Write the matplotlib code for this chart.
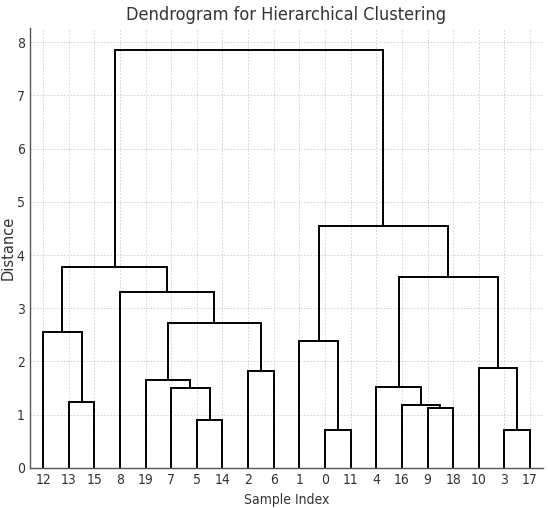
import numpy as np
import matplotlib
matplotlib.use("Agg")
import matplotlib.pyplot as plt

plt.rcParams['font.family'] = ['DejaVu Sans']
plt.rcParams['font.stretch'] = 'condensed'

# ── Data ───────────────────────────────────────────────────────────────────
# leaf order along the x axis (sample indices)
leaf_order = [12, 13, 15, 8, 19, 7, 5, 14, 2, 6, 1, 0, 11, 4, 16, 9, 18, 10, 3, 17]
n_samples = 20

# linkage steps: (left child, right child, distance); new cluster id = n + step
merge_left = [0, 3, 5, 9, 16, 13, 7, 4, 19, 2, 10, 1, 12, 28, 8, 27, 32, 31, 36]
merge_right = [11, 17, 14, 18, 23, 15, 22, 24, 26, 6, 21, 20, 25, 29, 33, 30, 34, 35, 37]
merge_dist = [0.71, 0.72, 0.90, 1.12, 1.19, 1.24, 1.50, 1.52, 1.66, 1.83,
              1.87, 2.39, 2.55, 2.73, 3.31, 3.58, 3.77, 4.55, 7.86]

# ── Layout of the tree ─────────────────────────────────────────────────────
pos = {leaf: 5 + 10 * i for i, leaf in enumerate(leaf_order)}
height = {leaf: 0.0 for leaf in leaf_order}

fig, ax = plt.subplots(figsize=(5.5, 5.08), dpi=100)

for k, (a, b, d) in enumerate(zip(merge_left, merge_right, merge_dist)):
    xa, xb = pos[a], pos[b]
    ax.plot([xa, xa, xb, xb], [height[a], d, d, height[b]],
            color="black", lw=1.4, solid_joinstyle="miter")
    cid = n_samples + k
    pos[cid] = 0.5 * (xa + xb)
    height[cid] = d

ax.set_xlim(0, 10 * n_samples)
ax.set_ylim(0, 8.27)
ax.set_xticks([5 + 10 * i for i in range(n_samples)])
ax.set_xticklabels([str(l) for l in leaf_order])
ax.set_yticks(range(0, 9))
ax.tick_params(length=0, labelsize=10, pad=4, colors="#333333")

ax.grid(True, ls=(0, (2, 2)), lw=0.6, color="#cccccc")
ax.set_axisbelow(True)
for side in ("top", "right"):
    ax.spines[side].set_visible(False)
for side in ("left", "bottom"):
    ax.spines[side].set_color("#555555")
    ax.spines[side].set_linewidth(1.0)

ax.set_title("Dendrogram for Hierarchical Clustering", fontsize=13, color="#333333")
ax.set_xlabel("Sample Index", fontsize=10, color="#333333")
ax.set_ylabel("Distance", fontsize=10.5, color="#333333",
              fontstretch="normal", labelpad=1)

fig.subplots_adjust(left=0.055, right=0.987, top=0.945, bottom=0.079)
fig.savefig("out.png", dpi=100)
